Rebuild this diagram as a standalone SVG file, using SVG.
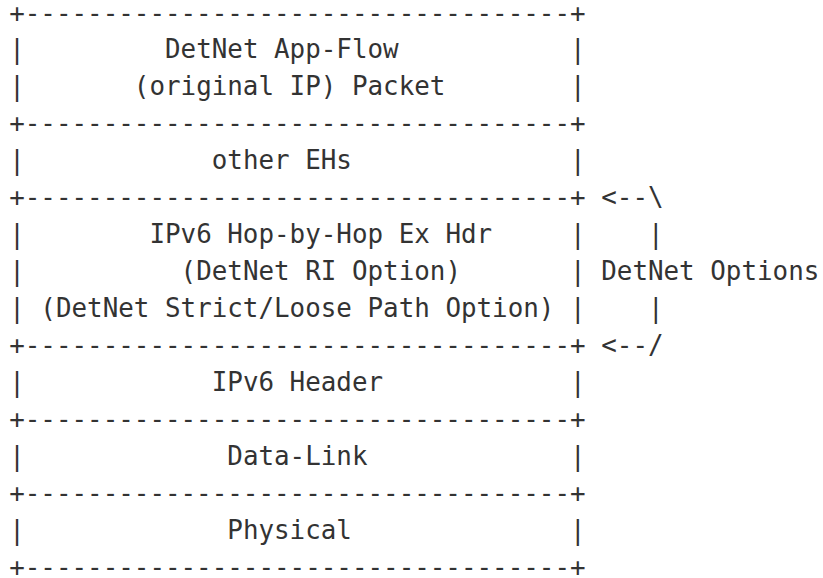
<svg xmlns="http://www.w3.org/2000/svg" width="823" height="578" viewBox="0 0 823 578">
<style>
text{font-family:"DejaVu Sans Mono","Liberation Mono",monospace;font-size:25.88px;fill:#333;white-space:pre}
</style>
<rect width="823" height="578" fill="#fff"/>
<g transform="translate(0,-2.5)">
<g id="app-flow">
<text x="9.2" y="24">+</text><text x="24.78" y="24">-----------------------------------</text><text x="570.08" y="24">+</text>
<text x="9.2" y="60.9">|</text><text x="165" y="60.9">DetNet App-Flow</text><text x="570.08" y="60.9">|</text>
<text x="9.2" y="97.9">|</text><text x="133.84" y="97.9">(original IP) Packet</text><text x="570.08" y="97.9">|</text>
</g>
<g id="other-ehs">
<text x="9.2" y="134.8">+</text><text x="24.78" y="134.8">-----------------------------------</text><text x="570.08" y="134.8">+</text>
<text x="9.2" y="171.7">|</text><text x="211.74" y="171.7">other EHs</text><text x="570.08" y="171.7">|</text>
</g>
<g id="hop-by-hop">
<text x="9.2" y="208.7">+</text><text x="24.78" y="208.7">-----------------------------------</text><text x="570.08" y="208.7">+</text>
<text x="9.2" y="245.6">|</text><text x="149.42" y="245.6">IPv6 Hop-by-Hop Ex Hdr</text><text x="570.08" y="245.6">|</text>
<text x="9.2" y="282.5">|</text><text x="180.58" y="282.5">(DetNet RI Option)</text><text x="570.08" y="282.5">|</text>
<text x="9.2" y="319.4">|</text><text x="40.36" y="319.4">(DetNet Strict/Loose Path Option)</text><text x="570.08" y="319.4">|</text>
</g>
<g id="ipv6-header">
<text x="9.2" y="356.4">+</text><text x="24.78" y="356.4">-----------------------------------</text><text x="570.08" y="356.4">+</text>
<text x="9.2" y="393.3">|</text><text x="211.74" y="393.3">IPv6 Header</text><text x="570.08" y="393.3">|</text>
</g>
<g id="data-link">
<text x="9.2" y="430.2">+</text><text x="24.78" y="430.2">-----------------------------------</text><text x="570.08" y="430.2">+</text>
<text x="9.2" y="467.2">|</text><text x="227.32" y="467.2">Data-Link</text><text x="570.08" y="467.2">|</text>
</g>
<g id="physical">
<text x="9.2" y="504.1">+</text><text x="24.78" y="504.1">-----------------------------------</text><text x="570.08" y="504.1">+</text>
<text x="9.2" y="541">|</text><text x="227.32" y="541">Physical</text><text x="570.08" y="541">|</text>
<text x="9.2" y="578">+</text><text x="24.78" y="578">-----------------------------------</text><text x="570.08" y="578">+</text>
</g>
<g id="connectors">
<text x="601.24" y="208.7">&lt;--\</text>
<text x="647.98" y="245.6">|</text>
<text x="601.24" y="282.5">DetNet Options</text>
<text x="647.98" y="319.4">|</text>
<text x="601.24" y="356.4">&lt;--/</text>
</g>
</g>
</svg>
